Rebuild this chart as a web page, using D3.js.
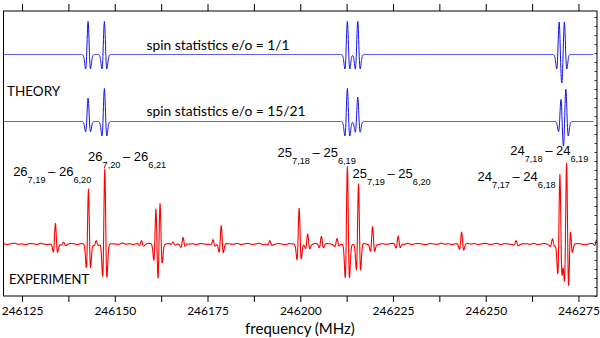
<!DOCTYPE html>
<html><head><meta charset="utf-8">
<script src="https://cdn.jsdelivr.net/npm/d3@7"></script>
<style>body{margin:0;background:#fff}svg{display:block}</style>
</head><body>
<svg id="c" width="600" height="338"></svg>
<script>
// ---------------- data ----------------
const xDomain = [246120, 246280];
const majorTicks = [246125, 246150, 246175, 246200, 246225, 246250, 246275];
const minorTicks = [246137.5, 246162.5, 246187.5, 246212.5, 246237.5, 246262.5];
const rightTicks = [0, 1, 2, 3, 4, 5, 6, 7, 8, 9, 10, 11, 12, 13, 14, 15, 16, 17, 18, 19, 20, 21, 22, 23, 24, 25, 26, 27, 28, 29, 30, 31];

// line profile (second-derivative shape): offset in widths -> relative amplitude
const profileU = [0, 0.25, 0.5, 0.75, 1, 1.25, 1.5, 1.75, 2, 2.25, 2.5, 2.75, 3, 3.25, 3.5, 3.75, 4, 4.5];
const profileV = [1, 0.909, 0.662, 0.330, 0, -0.258, -0.406, -0.446, -0.406, -0.323, -0.231, -0.150, -0.089, -0.049, -0.025, -0.012, -0.005, 0];

// theory, spin statistics 1/1
const theory1Freq = [246142.8, 246147.2, 246212.7, 246215.5, 246269.8, 246271.2];
const theory1Int  = [1, 1, 1, 1, 1, 1];
// theory, spin statistics 15/21
const theory2Freq = [246142.8, 246147.2, 246212.7, 246215.5, 246270.3, 246271.6];
const theory2Int  = [0.71, 1, 1, 0.74, 0.70, 1];

// experiment line list (MHz, a.u.)
const expFreq = [246134.0, 246136.2, 246142.9, 246145.0, 246147.3, 246157.2, 246161.1, 246162.2,
                 246165.7, 246168.4, 246176.5, 246178.7, 246191.8, 246199.7, 246202.0, 246205.7,
                 246209.9, 246212.7, 246215.7, 246219.5, 246226.4, 246243.5, 246258.2, 246268.0,
                 246270.0, 246271.8, 246272.8, 246279.9];
const expInt  = [24, 2.4, 66, 3.7, 91, 4.3, 45, 51,
                 2.4, 8, 5, 23, 3.7, 43, 12, 9.8,
                 6, 94, 73, 21, 10, 15, 3.7, 6,
                 84, 100, 22, 5];
// baseline noise, one value per MHz from 246120 to 246280 (a.u.)
const noise = [0.6,-0.8,0.4,1.0,-0.5,0.2,-1.1,0.7,0.3,-0.6,0.9,-0.3,-0.9,0.5,1.1,-0.4,0.0,-1.0,0.8,0.2,-0.7,0.6,-0.2,1.0,-0.8,0.3,-0.5,0.9,-1.0,0.4,
 0.1,-0.6,1.2,-0.3,0.5,-0.9,0.7,-0.1,-0.8,1.0,0.2,-0.5,0.6,-1.1,0.3,0.8,-0.4,0.0,-0.7,0.9,
 -0.2,0.5,-1.0,0.7,0.1,-0.6,1.1,-0.5,0.4,-0.9,0.6,0.0,-0.3,0.9,-0.8,0.2,0.7,-0.6,-0.1,1.0,
 -0.9,0.4,0.3,-0.7,0.8,-0.2,-1.0,0.6,0.1,-0.5,1.1,-0.4,0.2,-0.8,0.9,-0.1,-0.6,0.5,0.3,-1.0,
 0.8,-0.3,0.0,0.7,-0.9,0.4,-0.2,1.0,-0.6,0.3,0.5,-1.1,0.6,-0.4,0.2,0.9,-0.7,0.1,-0.5,1.0,
 -0.8,0.3,0.6,-0.2,-0.9,0.7,0.0,-0.5,1.1,-0.3,0.4,-0.8,0.5,0.2,-1.0,0.8,-0.1,0.6,-0.7,0.3,
 0.9,-0.5,-0.2,1.0,-0.8,0.4,0.1,-0.6,0.7,-1.0,0.5,0.2,-0.4,0.9,-0.7,0.0,0.6,-0.9,0.3,-0.2,
 1.0,-0.6,0.4,-0.8,0.2,0.7,-0.3,-1.0,0.5,0.8,-0.4];

// transition labels: J, Ka,Kc of upper and lower level, anchor (MHz, a.u.)
const labelJ     = ["26", "26", "25", "25", "24", "24"];
const labelUpper = ["7,19", "7,20", "7,18", "7,19", "7,18", "7,17"];
const labelLower = ["6,20", "6,21", "6,19", "6,20", "6,19", "6,18"];
const labelFreq  = [246122.6, 246142.8, 246193.9, 246214.1, 246256.6, 246247.8];
const labelInt   = [82.9, 101.8, 106.7, 80.5, 108.5, 77.4];

const theoryTexts = ["spin statistics e/o = 1/1", "spin statistics e/o = 15/21"];

// ---------------- drawing ----------------
const svg = d3.select("#c");
const L = 3.5, R = 597, T = 11, B = 296;
const x = d3.scaleLinear().domain(xDomain).range([L, R]);
const yT1 = d3.scaleLinear().domain([0, 1]).range([54.5, 21.5]);
const yT2 = d3.scaleLinear().domain([0, 1]).range([121.5, 88.5]);
const yE  = d3.scaleLinear().domain([0, 100]).range([244, 162]);
const yR  = d3.scaleLinear().domain([0, 31.67]).range([B, T]);

const profile = d3.scaleLinear().domain(profileU).range(profileV).clamp(true);
const noiseScale = d3.scaleLinear().domain(noise.map((d, i) => xDomain[0] + i)).range(noise);

function spectrum(freqs, ints, w, lo, hi, withNoise) {
  const grid = d3.range(lo, hi + 1e-6, 0.05);
  return grid.map(f => {
    let v = withNoise ? noiseScale(f) : 0;
    freqs.forEach((f0, i) => {
      const u = Math.abs(f - f0) / w;
      if (u < 4.5) v += ints[i] * profile(u);
    });
    return [f, v];
  });
}

svg.append("clipPath").attr("id", "clip").append("rect")
  .attr("x", L).attr("y", T).attr("width", R - L).attr("height", B - T);
const g = svg.append("g").attr("clip-path", "url(#clip)");

function drawTrace(data, y, color, sw) {
  g.append("path").datum(data)
    .attr("fill", "none").attr("stroke", color).attr("stroke-width", sw)
    .attr("stroke-linejoin", "round")
    .attr("d", d3.line().x(d => x(d[0])).y(d => y(d[1])));
}

drawTrace(spectrum(theory1Freq, theory1Int, 0.38, 246120, 246279, false), yT1, "#1414e6", 1);
drawTrace(spectrum(theory2Freq, theory2Int, 0.38, 246120, 246279, false), yT2, "#1414e6", 1);
drawTrace(spectrum(expFreq, expInt, 0.33, 246120, 246280, true), yE, "#ff0000", 1.1);

// frame + axes
const allTicks = majorTicks.concat(minorTicks);
const axB = d3.axisBottom(x).tickValues(allTicks).tickSize(6).tickSizeOuter(0)
  .tickFormat(d => majorTicks.includes(d) ? String(d) : "");
const axT = d3.axisTop(x).tickValues(allTicks).tickSize(7).tickSizeOuter(0).tickFormat("");
const axR = d3.axisLeft(yR).tickValues(rightTicks).tickSize(2.5).tickSizeOuter(0).tickFormat("");
const gb = svg.append("g").attr("transform", `translate(0,${B})`).call(axB);
const gt = svg.append("g").attr("transform", `translate(0,${T})`).call(axT);
const gr = svg.append("g").attr("transform", `translate(${R},0)`).call(axR);
[gb, gt, gr].forEach(a => {
  a.select(".domain").remove();
  a.selectAll("line").attr("stroke", "#000").attr("stroke-width", 1);
});
gr.selectAll("line").attr("stroke", "#444");
gb.selectAll("text").attr("font-family", "Lato").attr("font-size", 12).attr("fill", "#000")
  .attr("dy", "0.9em").attr("y", 8.5);

svg.append("rect").attr("x", L).attr("y", T).attr("width", R - L).attr("height", B - T)
  .attr("fill", "none").attr("stroke", "#000").attr("stroke-width", 1);

// texts
svg.append("text").attr("x", 300).attr("y", 334).attr("text-anchor", "middle")
  .attr("font-family", "Lato").attr("font-size", 15).text("frequency (MHz)");

svg.append("text").attr("x", 146.5).attr("y", yT1(0) - 4.5)
  .attr("font-family", "Lato").attr("font-size", 13.8).text(theoryTexts[0]);
svg.append("text").attr("x", 146.5).attr("y", yT2(0) - 5.5)
  .attr("font-family", "Lato").attr("font-size", 13.8).text(theoryTexts[1]);
svg.append("text").attr("x", 7).attr("y", 95.5)
  .attr("font-family", "Lato").attr("font-size", 13.5).text("THEORY");
svg.append("text").attr("x", 9).attr("y", 284.3)
  .attr("font-family", "Lato").attr("font-size", 13).text("EXPERIMENT");

labelJ.forEach((j, i) => {
  const t = svg.append("text").attr("x", x(labelFreq[i])).attr("y", yE(labelInt[i]))
    .attr("font-family", "Liberation Sans, Arial, sans-serif").attr("font-size", 13).attr("fill", "#000");
  t.append("tspan").text(j);
  t.append("tspan").attr("font-size", 9.2).attr("dy", 7).text(labelUpper[i]);
  t.append("tspan").attr("dy", -7).text("\u2009\u2013 " + j);
  t.append("tspan").attr("font-size", 9.2).attr("dy", 7).text(labelLower[i]);
});
</script>
</body></html>
